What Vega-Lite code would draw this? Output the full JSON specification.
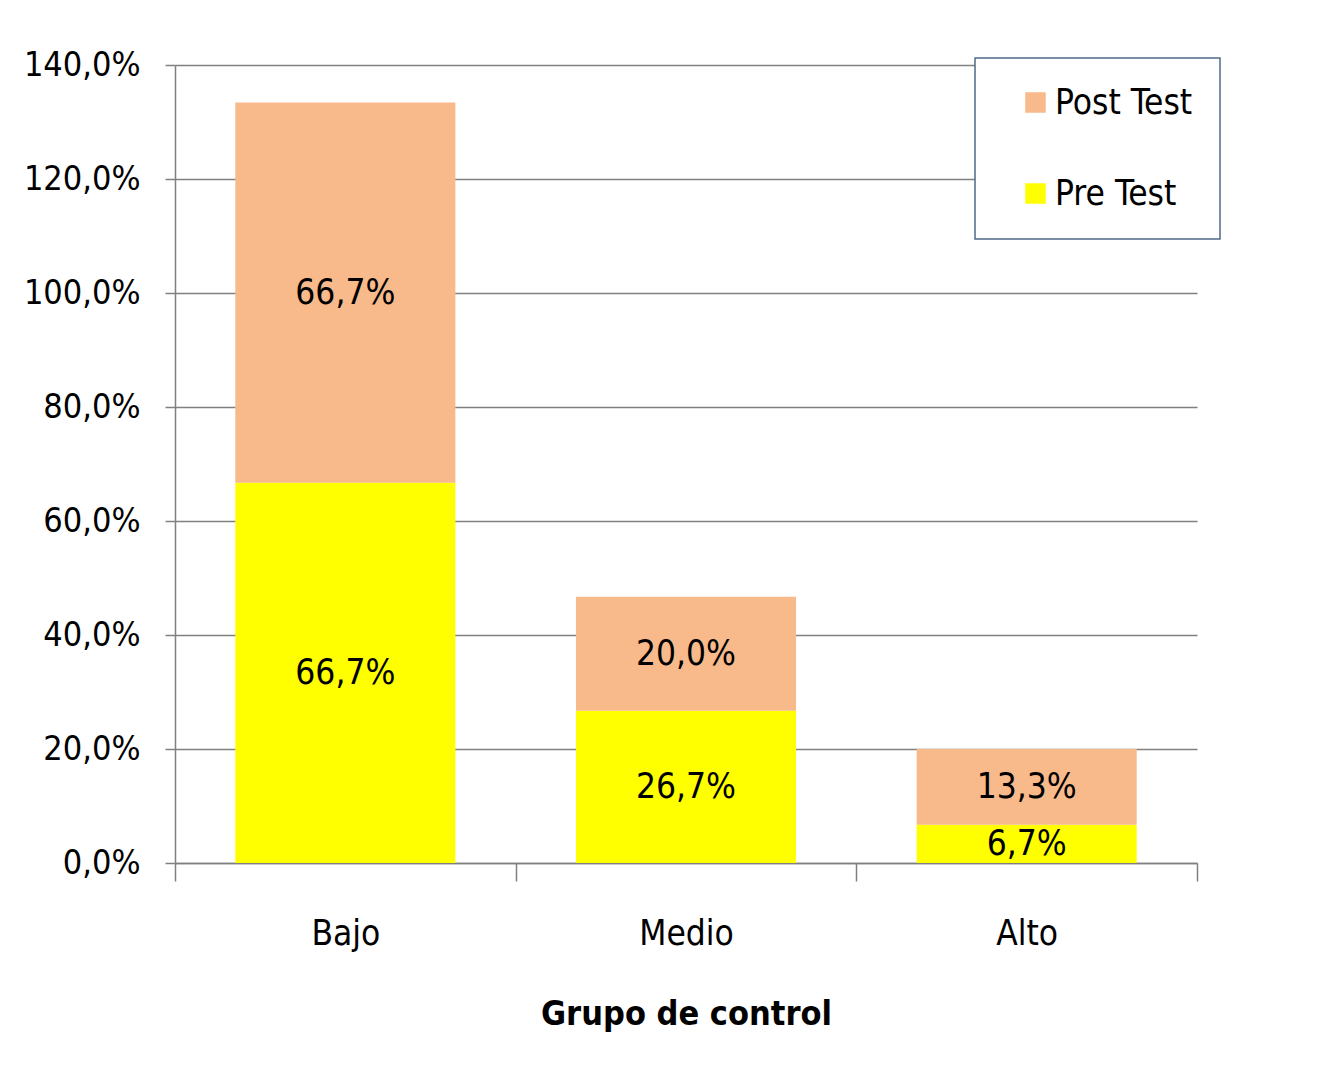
{
  "$schema": "https://vega.github.io/schema/vega-lite/v6.json",
  "width": 1022,
  "height": 798,
  "autosize": {"type": "none"},
  "padding": {"left": 175, "top": 65, "right": 127, "bottom": 225},
  "background": "white",
  "config": {
    "locale": {"number": {"decimal": ",", "thousands": ".", "grouping": [3], "currency": ["", " €"]}},
    "view": {"stroke": null},
    "font": "DejaVu Sans Condensed, Liberation Sans, sans-serif",
    "legend": {"strokeWidth": 1.5}
  },
  "data": {
    "values": [
      {"grupo": "Bajo", "test": "Pre Test", "valor": 0.667},
      {"grupo": "Bajo", "test": "Post Test", "valor": 0.667},
      {"grupo": "Medio", "test": "Pre Test", "valor": 0.267},
      {"grupo": "Medio", "test": "Post Test", "valor": 0.2},
      {"grupo": "Alto", "test": "Pre Test", "valor": 0.067},
      {"grupo": "Alto", "test": "Post Test", "valor": 0.133}
    ]
  },
  "encoding": {
    "x": {
      "field": "grupo",
      "type": "nominal",
      "sort": ["Bajo", "Medio", "Alto"],
      "scale": {"paddingInner": 0, "paddingOuter": 0},
      "axis": {
        "title": "Grupo de control",
        "titleFont": "DejaVu Sans Condensed, Liberation Sans, sans-serif",
        "titleFontSize": 34,
        "titleFontWeight": "bold",
        "titleColor": "black",
        "titlePadding": 46,
        "labelFont": "DejaVu Sans Condensed, Liberation Sans, sans-serif",
        "labelFontSize": 35,
        "labelColor": "black",
        "labelAngle": 0,
        "labelPadding": 35,
        "tickBand": "extent",
        "tickSize": 18,
        "tickColor": "#808080",
        "tickWidth": 1.5,
        "domainColor": "#808080",
        "domainWidth": 1.5
      }
    },
    "y": {
      "field": "valor",
      "type": "quantitative",
      "stack": "zero",
      "scale": {"domain": [0, 1.4], "nice": false},
      "axis": {
        "title": null,
        "format": ".1%",
        "values": [0, 0.2, 0.4, 0.6, 0.8, 1.0, 1.2, 1.4],
        "labelFont": "DejaVu Sans Condensed, Liberation Sans, sans-serif",
        "labelFontSize": 34,
        "labelColor": "black",
        "labelPadding": 25,
        "tickSize": 10,
        "tickColor": "#808080",
        "tickWidth": 1.5,
        "domainColor": "#808080",
        "domainWidth": 1.5,
        "grid": true,
        "gridColor": "#808080",
        "gridWidth": 1.5
      }
    },
    "order": {"field": "test", "sort": "descending"}
  },
  "layer": [
    {
      "mark": {"type": "bar", "width": {"band": 0.646}},
      "encoding": {
        "color": {
          "field": "test",
          "type": "nominal",
          "scale": {"domain": ["Post Test", "Pre Test"], "range": ["#F8B98B", "#FFFF00"]},
          "legend": {
            "title": null,
            "orient": "none",
            "legendX": 800,
            "legendY": -7,
            "labelFont": "DejaVu Sans Condensed, Liberation Sans, sans-serif",
            "labelFontSize": 35,
            "labelColor": "black",
            "symbolType": "square",
            "symbolSize": 420,
            "symbolStrokeWidth": 0,
            "symbolOffset": 16,
            "labelOffset": 2,
            "rowPadding": 55,
            "padding": 27,
            "strokeColor": "#4f6b88",
            "fillColor": "white"
          }
        }
      }
    },
    {
      "mark": {"type": "text", "fontSize": 35, "font": "DejaVu Sans Condensed, Liberation Sans, sans-serif", "color": "black", "baseline": "middle"},
      "encoding": {
        "y": {"field": "valor", "type": "quantitative", "stack": "zero", "bandPosition": 0.5},
        "text": {"field": "valor", "type": "quantitative", "format": ".1%"}
      }
    }
  ]
}
